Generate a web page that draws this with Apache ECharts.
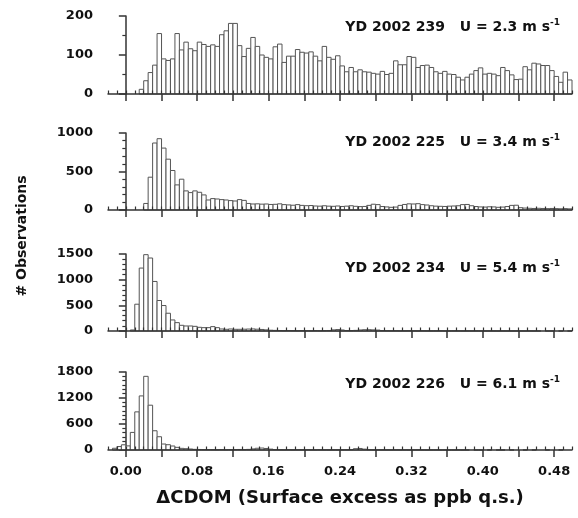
<!DOCTYPE html>
<html>
<head>
<meta charset="utf-8">
<script src="https://cdn.jsdelivr.net/npm/echarts@6/dist/echarts.min.js"></script>
<style>
  html, body { margin: 0; padding: 0; background: #fff; }
  #chart { width: 578px; height: 518px; }
</style>
</head>
<body>
<div id="chart"></div>
<script>
// histogram bins: 0.005 wide, first bin starts at -0.02
var binStart = -0.02
var binWidth = 0.005

var obs239 = [
  0, 0, 0, 0, 0, 0, 0,
  12, 34, 55, 74, 155, 90, 86, 90, 155, 113,
  133, 116, 111, 133, 127, 122, 126, 122, 152, 162,
  181, 181, 124, 96, 117, 145, 122, 100, 94, 90,
  121, 128, 81, 97, 97, 114, 107, 105, 108, 97,
  85, 122, 94, 89, 98, 72, 57, 68, 57, 62,
  57, 56, 53, 51, 58, 50, 53, 85, 75, 75,
  96, 94, 68, 73, 74, 68, 57, 53, 58, 51,
  50, 43, 36, 43, 51, 60, 67, 51, 53, 51,
  47, 68, 60, 49, 37, 38, 70, 62, 79, 77,
  73, 73, 60, 45, 30, 56, 36
]

var obs225 = [
  0, 0, 0, 0, 0, 0, 0, 0,
  85, 426, 870, 926, 804, 660, 513, 326, 400, 248,
  226, 248, 230, 196, 130, 148, 143, 135, 130, 122,
  117, 135, 125,
  85, 78, 80, 76, 78, 72, 74, 80, 70, 66,
  62, 70, 60, 56, 58, 52, 50, 55, 50, 48,
  52, 46, 50, 55, 48, 44, 46, 60, 75, 70,
  45, 40, 35, 38, 60, 72, 80, 78, 82, 70,
  65, 55, 50, 48, 46, 50, 52, 55, 70, 72,
  55, 45, 40, 38, 42, 40, 35, 38, 45, 60,
  62, 30, 25, 22, 20, 22, 20, 18, 20, 18,
  16, 18, 15
]

var obs234 = [
  0, 0, 0, 0, 0,
  20,
  522, 1226, 1487, 1422, 965, 594, 496, 346, 215, 163,
  111, 98, 98, 91, 72, 65, 65, 85, 65, 39,
  33, 39, 33, 33,
  35, 38, 40, 35, 30, 22, 15, 12,
  10, 8, 10, 8, 6, 8, 6, 5, 8, 6, 8, 10,
  22, 28, 20,
  10, 8, 12,
  20, 25, 25, 22, 18,
  8, 6, 5, 6, 4, 5, 6, 4, 3, 5,
  4, 3, 4, 5, 3, 2, 4, 3, 2, 3,
  2, 3, 2, 2, 3, 2, 1, 2, 2, 1,
  2, 1, 1, 2, 1, 1, 0, 1, 1, 0,
  1, 0, 1
]

var obs226 = [
  0,
  40, 80, 120, 95,
  406, 880, 1248, 1700, 1034, 444, 306, 138, 122, 92, 61, 38, 30, 23, 15,
  12, 10, 8, 8, 6, 8, 6, 8, 10, 12, 10, 14,
  25, 40, 45, 35, 20,
  8, 6, 5, 6, 4, 5, 6, 5, 4, 3, 5, 4, 3, 4, 3, 5, 6, 8,
  30, 35, 20,
  6, 4, 3, 4, 3, 2, 3, 2, 3, 2,
  2, 3, 2, 1, 2, 2, 1, 2, 1, 1,
  2, 1, 1, 0, 1, 1, 0, 1, 0, 1,
  1, 0, 1, 0, 0, 1, 0, 1, 0, 0,
  1, 0, 0, 1, 0, 0
]

var panelTitles = ['YD 2002 239', 'YD 2002 225', 'YD 2002 234', 'YD 2002 226']
var windSpeeds = ['2.3', '3.4', '5.4', '6.1']
var panelValues = [obs239, obs225, obs234, obs226]
var yMax = [200, 1000, 1500, 1800]
var yInterval = [100, 500, 500, 600]
var yMinorSplit = [2, 5, 5, 6]

var xMajorTicks = [0, 0.04, 0.08, 0.12, 0.16, 0.20, 0.24, 0.28, 0.32, 0.36, 0.40, 0.44, 0.48]
var xTickLabels = [0, 0.08, 0.16, 0.24, 0.32, 0.40, 0.48]
var xMinorTicks = []
for (var t = -2; t <= 50; t++) xMinorTicks.push(t / 100)

// layout
var gridTop = [16, 133, 254, 372]
var gridHeight = [78, 77, 77, 78]
var titleTop = [18, 133, 259, 375]

var font = 'DejaVu Sans'
var axisColor = '#333'
var textColor = '#111'

var grids = [], xAxes = [], yAxes = [], series = [], titles = []

panelValues.forEach(function (values, k) {
  grids.push({ left: 108, right: 6, top: gridTop[k], height: gridHeight[k] })

  var last = k === panelValues.length - 1
  xAxes.push({
    gridIndex: k, type: 'value', min: -0.02, max: 0.5, z: 5,
    axisLine: { show: true, onZero: false, lineStyle: { color: axisColor, width: 1.5 } },
    axisTick: { show: true, customValues: xMajorTicks, length: 7, lineStyle: { color: axisColor, width: 1.5 } },
    axisLabel: {
      show: last, customValues: xTickLabels, margin: 15,
      formatter: function (v) { return v.toFixed(2) },
      fontFamily: font, fontWeight: 'bold', fontSize: 13, color: textColor
    },
    splitLine: { show: false },
    name: last ? 'ΔCDOM (Surface excess as ppb q.s.)' : '',
    nameLocation: 'middle', nameGap: 39,
    nameTextStyle: { fontFamily: font, fontWeight: 'bold', fontSize: 18, color: textColor }
  })
  xAxes.push({
    gridIndex: k, type: 'value', min: -0.02, max: 0.5, z: 5,
    axisLine: { show: false },
    axisTick: { show: true, customValues: xMinorTicks, length: 3.5, lineStyle: { color: axisColor, width: 1.2 } },
    axisLabel: { show: false },
    splitLine: { show: false }
  })

  yAxes.push({
    gridIndex: k, type: 'value', min: 0, max: yMax[k], interval: yInterval[k],
    axisLine: { show: true, lineStyle: { color: axisColor, width: 1.5 } },
    axisTick: { show: true, length: 7, lineStyle: { color: axisColor, width: 1.5 } },
    minorTick: { show: true, splitNumber: yMinorSplit[k], length: 3.5, lineStyle: { color: axisColor, width: 1.2 } },
    axisLabel: {
      margin: 15, fontFamily: font, fontWeight: 'bold', fontSize: 13, color: textColor,
      formatter: function (v) { return String(v) }
    },
    splitLine: { show: false }
  })

  series.push({
    type: 'custom',
    xAxisIndex: 2 * k,
    yAxisIndex: k,
    encode: { x: [0, 1], y: 2 },
    data: values.map(function (v, i) {
      return [binStart + i * binWidth, binStart + (i + 1) * binWidth, v]
    }),
    renderItem: function (params, api) {
      var v = api.value(2)
      if (!(v > 0)) return null
      var p0 = api.coord([api.value(0), v])
      var p1 = api.coord([api.value(1), 0])
      return {
        type: 'rect',
        shape: { x: p0[0], y: p0[1], width: p1[0] - p0[0], height: p1[1] - p0[1] },
        style: { fill: '#fff', stroke: '#555', lineWidth: 1 }
      }
    }
  })

  titles.push({
    text: '{m|' + panelTitles[k] + '   U = ' + windSpeeds[k] + ' m s}{s|-1}',
    right: 18, top: titleTop[k], padding: 0,
    textStyle: {
      rich: {
        m: { fontFamily: font, fontWeight: 'bold', fontSize: 14, color: textColor, lineHeight: 18 },
        s: { fontFamily: font, fontWeight: 'bold', fontSize: 9, color: textColor, lineHeight: 10, verticalAlign: 'top' }
      }
    }
  })
})

var chart = echarts.init(document.getElementById('chart'))
chart.setOption({
  animation: false,
  backgroundColor: '#fff',
  title: titles,
  grid: grids,
  xAxis: xAxes,
  yAxis: yAxes,
  series: series,
  graphic: [{
    type: 'text', x: 22, y: 236, rotation: Math.PI / 2,
    style: {
      text: '# Observations', fontFamily: font, fontWeight: 'bold', fontSize: 14,
      fill: textColor, align: 'center', verticalAlign: 'middle'
    }
  }]
})
</script>
</body>
</html>
